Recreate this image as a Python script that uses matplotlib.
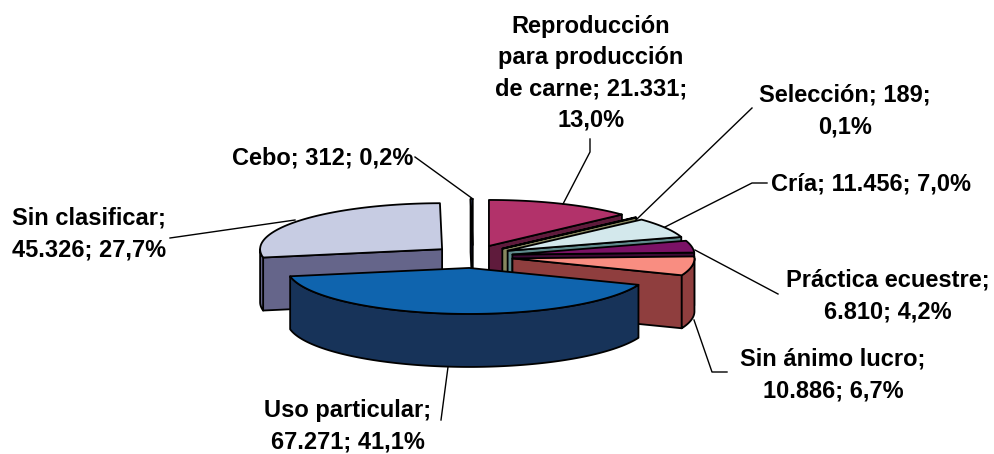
import numpy as np
import matplotlib
matplotlib.use("Agg")
import matplotlib.pyplot as plt
from matplotlib.patches import Polygon

categories = ["Reproducción\npara producción\nde carne", "Selección", "Cría", "Práctica ecuestre",
              "Sin ánimo lucro", "Uso particular", "Sin clasificar", "Cebo"]
values = [21331, 189, 11456, 6810, 10886, 67271, 45326, 312]
value_labels = ["21.331", "189", "11.456", "6.810", "10.886", "67.271", "45.326", "312"]
percent_labels = ["13,0%", "0,1%", "7,0%", "4,2%", "6,7%", "41,1%", "27,7%", "0,2%"]
top_colors = ["#B2326A", "#C9C98F", "#D3E8EC", "#7B1266", "#F98D81", "#0F64AE", "#C7CCE3", "#5A6AA8"]
side_colors = ["#5F1B3C", "#87875F", "#5F8A8C", "#3E0A36", "#8F3E3E", "#173359", "#65658A", "#12122E"]

# label text layout: x, y, alignment, text with line breaks
label_texts = [
    (591, 73, "center", "{0}; {1};\n{2}"),
    (845, 111, "center", "{0}; {1};\n{2}"),
    (871, 184, "center", "{0}; {1}; {2}"),
    (888, 296, "center", "{0};\n{1}; {2}"),
    (833, 375, "center", "{0};\n{1}; {2}"),
    (348, 426, "center", "{0};\n{1}; {2}"),
    (89, 234, "center", "{0};\n{1}; {2}"),
    (323, 158, "center", "{0}; {1}; {2}"),
]

leaders = [
    [(590, 139), (590, 152), (563, 204)],
    [(752, 108), (637, 219)],
    [(767, 183), (752, 183), (665, 227)],
    [(778, 294), (695, 250)],
    [(727, 372), (712, 372), (694, 320)],
    [(441, 420), (448, 367)],
    [(170, 238), (295, 220)],
    [(415, 157), (473, 199)],
]

cx, cy = 473, 256.5
rx, ry = 182, 46
explode_x, explode_y = 40, 11.5
depth = 53


def rim(x0, y0, a, b, dy=0):
    t = np.radians(np.linspace(a, b, max(int(abs(b - a)) * 2, 2)))
    return np.column_stack([x0 + rx * np.sin(t), y0 - ry * np.cos(t) + dy])


def draw_slice(ax, a, b, top, side):
    mid = np.radians((a + b) / 2)
    x0 = cx + explode_x * np.sin(mid)
    y0 = cy - explode_y * np.cos(mid)
    style = dict(edgecolor="black", linewidth=1.3, joinstyle="round")

    # radial faces, only those turned towards the viewer
    for ang, visible in ((a, np.sin(np.radians(a)) < 0), (b, np.sin(np.radians(b)) > 0)):
        if visible:
            p = rim(x0, y0, ang, ang + 0.01)[0]
            ax.add_patch(Polygon([(x0, y0), p, (p[0], p[1] + depth), (x0, y0 + depth)],
                                 facecolor=side, **style))
    # outer wall, front half only
    lo, hi = max(a, 90), min(b, 270)
    if hi > lo:
        front = rim(x0, y0, lo, hi)
        back = rim(x0, y0, hi, lo, depth)
        ax.add_patch(Polygon(np.vstack([front, back]), facecolor=side, **style))
    ax.add_patch(Polygon(np.vstack([[(x0, y0)], rim(x0, y0, a, b)]), facecolor=top, **style))


def main():
    plt.rcParams["font.family"] = ["Liberation Sans", "DejaVu Sans"]
    fig = plt.figure(figsize=(9.95, 4.54), dpi=100)
    ax = fig.add_axes([0, 0, 1, 1])
    ax.set_xlim(0, 995)
    ax.set_ylim(454, 0)
    ax.axis("off")

    edges = np.concatenate([[0], np.cumsum(values)]) / sum(values) * 360
    # back slices first, the big front slice last
    order = [7, 6, 0, 1, 2, 3, 4, 5]
    for i in order:
        draw_slice(ax, edges[i], edges[i + 1], top_colors[i], side_colors[i])

    for pts in leaders:
        xs, ys = zip(*pts)
        ax.plot(xs, ys, color="black", linewidth=1, zorder=1)

    for i, (x, y, ha, fmt) in enumerate(label_texts):
        ax.text(x, y, fmt.format(categories[i], value_labels[i], percent_labels[i]),
                ha=ha, va="center", fontsize=17, fontweight="bold",
                linespacing=1.45, color="black")

    fig.savefig("out.png", dpi=100)


if __name__ == "__main__": main()
